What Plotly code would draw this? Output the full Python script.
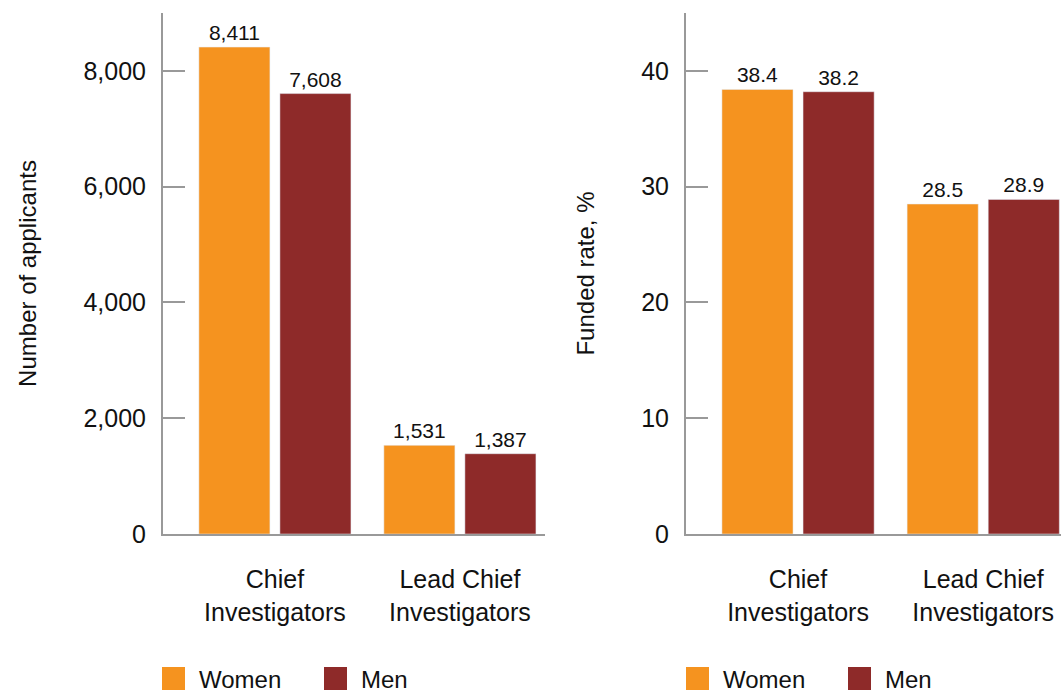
import plotly.graph_objects as go

categories = ["Chief<br>Investigators", "Lead Chief<br>Investigators"]
series_names = ["Women", "Men"]
applicants_women = [8411, 1531]
applicants_men = [7608, 1387]
funded_women = [38.4, 28.5]
funded_men = [38.2, 28.9]
y1_ticks = [0, 2000, 4000, 6000, 8000]
y2_ticks = [0, 10, 20, 30, 40]

colors = ["#F5931F", "#8E2A29"]
FONT = "Liberation Sans"
W, H = 1061, 693
HE = 679  # effective vertical paper extent as rendered

fig = go.Figure()

bar_w = 0.384
offsets = [-0.411, 0.027]

left_vals = [applicants_women, applicants_men]
right_vals = [funded_women, funded_men]

for i, name in enumerate(series_names):
    fig.add_trace(go.Bar(
        x=categories, y=left_vals[i], name=name, marker_color=colors[i],
        width=bar_w, offset=offsets[i], xaxis="x", yaxis="y",
        texttemplate="%{y:,}", textposition="outside", constraintext="none",
        textfont=dict(size=21, color="#111"), cliponaxis=False, showlegend=False))
for i, name in enumerate(series_names):
    fig.add_trace(go.Bar(
        x=categories, y=right_vals[i], name=name, marker_color=colors[i],
        width=bar_w, offset=offsets[i], xaxis="x2", yaxis="y2",
        texttemplate="%{y:.1f}", textposition="outside", constraintext="none",
        textfont=dict(size=21, color="#111"), cliponaxis=False, showlegend=False))

axis_common = dict(showgrid=False, zeroline=False, showline=True, linecolor="#999",
                   linewidth=2)
xcommon = dict(axis_common, type="category", ticks="", ticklabelstandoff=22,
               tickfont=dict(size=25, color="#111"))
ycommon = dict(axis_common, ticks="inside", ticklen=22, tickcolor="#999", tickwidth=2,
               tickfont=dict(size=25, color="#111"), ticklabelstandoff=10)

ydom = [1 - 534 / HE, 1 - 13 / HE]

fig.update_layout(
    width=W, height=H, autosize=False,
    margin=dict(l=0, r=0, t=0, b=0),
    paper_bgcolor="white", plot_bgcolor="white",
    font=dict(family=FONT, color="#111"),
    showlegend=False,
    xaxis=dict(xcommon, domain=[163 / W, 545 / W], range=[-0.605, 1.46], anchor="y"),
    yaxis=dict(ycommon, domain=ydom, range=[0, 9000],
               tickvals=y1_ticks, tickformat=",", anchor="x",
               title=dict(text="Number of applicants", font=dict(size=24), standoff=40)),
    xaxis2=dict(xcommon, domain=[686 / W, 1.0], range=[-0.605, 1.42], anchor="y2"),
    yaxis2=dict(ycommon, domain=ydom, range=[0, 45],
                tickvals=y2_ticks, anchor="x2",
                title=dict(text="Funded rate, %", font=dict(size=24), standoff=40)),
)

# legends (one under each panel)
legend_x = [[162, 324], [686, 848]]
for panel in legend_x:
    for i, name in enumerate(series_names):
        x0 = panel[i]
        fig.add_shape(type="rect", xref="paper", yref="paper",
                      x0=x0 / W, x1=(x0 + 23) / W, y0=1 - 690 / HE, y1=1 - 667 / HE,
                      fillcolor=colors[i], line_width=0)
        fig.add_annotation(xref="paper", yref="paper", x=(x0 + 35) / W, y=1 - 679 / HE,
                           text=name, showarrow=False, xanchor="left", yanchor="middle",
                           font=dict(size=24, color="#111"))

fig.write_html("out.html",
               config={"displayModeBar": False, "responsive": False},
               post_script="document.body.style.margin='0';document.body.style.overflow='hidden';")
